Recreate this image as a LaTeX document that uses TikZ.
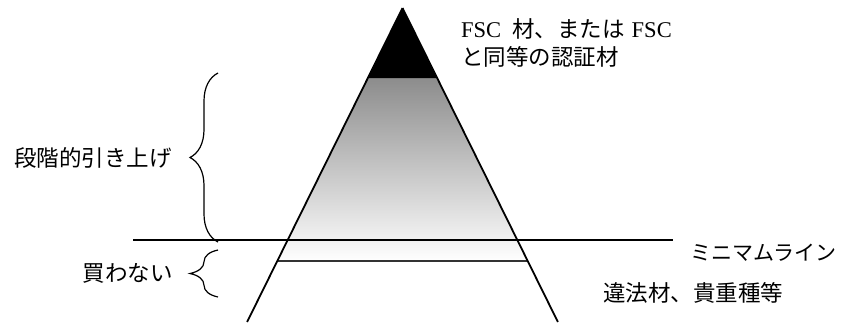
\documentclass[tikz,border=0pt]{standalone}
\usepackage{fontspec}
\setmainfont{Liberation Serif}
\newfontfamily\jp{Noto Sans CJK JP}
\usetikzlibrary{decorations.pathreplacing}
\begin{document}
\begin{tikzpicture}[x=1pt,y=-1pt,
  lbl/.style={font=\jp\fontsize{22.5}{24}\selectfont, inner sep=0pt},
  kana/.style={font=\jp\fontsize{21}{24}\selectfont, inner sep=0pt},
  edge/.style={line width=1.8pt},
  hline/.style={line width=1.4pt},
  brc/.style={decorate, decoration={brace, amplitude=28pt}, line width=1.2pt}]
\useasboundingbox (0,0) rectangle (849,322);
\coordinate (apex) at (402.5,8);
\coordinate (capL) at (367.85,78);
\coordinate (capR) at (437.15,78);
\coordinate (minL) at (277.3,261);
\coordinate (minR) at (527.7,261);
\coordinate (botL) at (247.1,322);
\coordinate (botR) at (557.9,322);
\coordinate (lineL) at (133,240);
\coordinate (lineR) at (673,240);
\shade[top color=black!45, bottom color=white] (capL) -- (capR) -- (minR) -- (minL) -- cycle;
\fill[black] (apex) -- (capR) -- (capL) -- cycle;
\draw[hline, black!80] (minL) -- (minR);
\draw[hline] (lineL) -- (lineR);
\draw[edge] (apex) -- (botL);
\draw[edge] (apex) -- (botR);
\coordinate (b1t) at (218,73);
\coordinate (b1b) at (218,242);
\coordinate (b2t) at (218,250);
\coordinate (b2b) at (218,297);
\draw[brc] (b1b) -- (b1t);
\draw[brc] (b2b) -- (b2t);
\node[lbl, anchor=east] (step) at (172,158) {段階的引き上げ};
\node[lbl, anchor=east] (nobuy) at (173,273) {買わない};
\node[kana, anchor=west] (minline) at (690,253) {ミニマムライン};
\node[lbl, anchor=west] (illegal) at (603,293) {違法材、貴重種等};
\node[anchor=north west, align=left, inner sep=0pt, font=\fontsize{22.5}{28}\selectfont] (fsc) at (461,18) {FSC\hspace{0.5em}{\jp 材、または}\hspace{0.3em}FSC\\{\jp と同等の認証材}};
\end{tikzpicture}
\end{document}
